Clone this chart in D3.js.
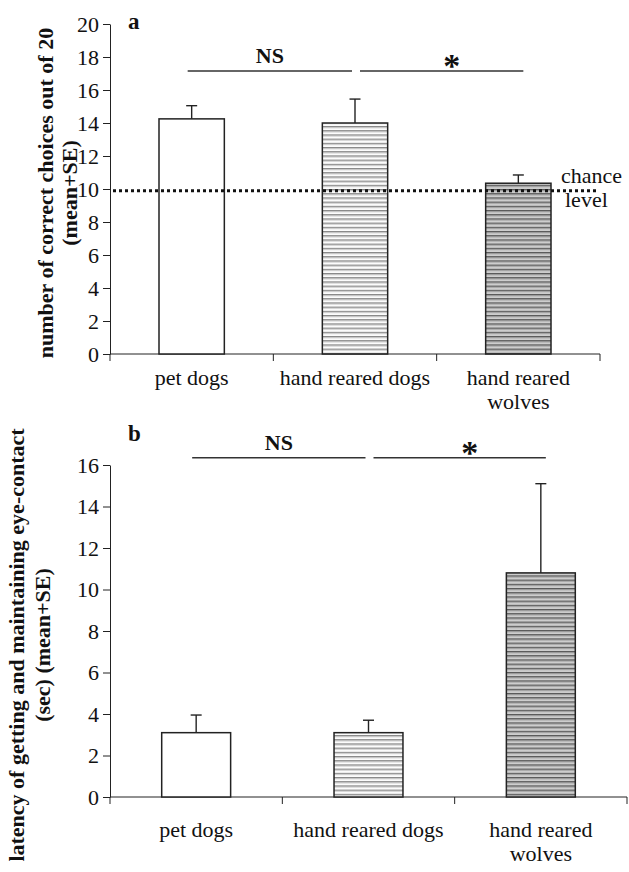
<!DOCTYPE html>
<html>
<head>
<meta charset="utf-8">
<script src="https://cdn.jsdelivr.net/npm/d3@7"></script>
<style>
  body { margin: 0; background: #fff; }
  svg { display: block; }
  svg text { font-family: 'Liberation Serif', 'Times New Roman', serif; fill: #111; }
  .axis path, .axis line { stroke: #222; }
</style>
</head>
<body>
<div id="chart"></div>
<script>
// data
const categories = ['pet dogs', 'hand reared dogs', 'hand reared wolves']
const categoryLines = [['pet dogs'], ['hand reared dogs'], ['hand reared', 'wolves']]
const choiceMean = [14.25, 14.0, 10.35]
const choiceSE = [0.8, 1.45, 0.5]
const chanceLevel = 9.9
const latencyMean = [3.1, 3.1, 10.8]
const latencySE = [0.85, 0.6, 4.3]
const sigLabels = ['NS', '*']

const W = 629
const H = 872
const FONT = "'Liberation Serif', 'Times New Roman', serif"
const svg = d3.select('#chart').append('svg')
  .attr('width', W)
  .attr('height', H)

// stripe fills
const defs = svg.append('defs')
function stripe (id, bg, line, line2) {
  let p = defs.append('pattern')
    .attr('id', id)
    .attr('patternUnits', 'userSpaceOnUse')
    .attr('width', 8)
    .attr('height', 4.2)
  p.append('rect').attr('width', 8).attr('height', 4.2).attr('fill', bg)
  p.append('rect').attr('y', 0).attr('width', 8).attr('height', 1.3).attr('fill', line)
  p.append('rect').attr('y', 1.3).attr('width', 8).attr('height', 0.8).attr('fill', line2)
}
stripe('stripeLight', '#fcfcfc', '#858585', '#c2c2c2')
stripe('stripeDark', '#cdcdcd', '#555', '#999')
const fills = ['#fff', 'url(#stripeLight)', 'url(#stripeDark)']

function drawPanel (o) {
  let g = svg.append('g')
  let x = d3.scaleBand().domain(categories).range([o.x0, o.x1])
  let y = d3.scaleLinear().domain([0, o.yMax]).range([o.yBottom, o.yTop])
  let bw = x.bandwidth() * 0.4

  // y axis
  g.append('g')
    .attr('class', 'axis')
    .attr('transform', `translate(${o.x0},0)`)
    .call(d3.axisLeft(y).tickValues(d3.range(0, o.yMax + 1, 2)).tickSize(7).tickSizeOuter(0).tickPadding(4))
    .call(a => a.selectAll('text')
      .attr('dy', '0.34em')
      .style('font-family', FONT)
      .style('font-size', '22px')
      .style('fill', '#111'))

  // x axis line and ticks at band edges
  g.append('line')
    .attr('x1', o.x0).attr('x2', o.x1)
    .attr('y1', y(0)).attr('y2', y(0))
    .attr('stroke', '#222')
  let edges = categories.map(c => x(c)).concat([o.x1])
  g.selectAll('.xtick').data(edges).enter().append('line')
    .attr('x1', d => d).attr('x2', d => d)
    .attr('y1', y(0)).attr('y2', y(0) + 7)
    .attr('stroke', '#222')

  // category labels
  categoryLines.forEach((lines, i) => {
    let cx = x(categories[i]) + x.bandwidth() / 2
    let t = g.append('text')
      .attr('x', cx)
      .attr('y', y(0) + o.labelDy)
      .attr('text-anchor', 'middle')
      .style('font-size', '22px')
    lines.forEach((l, j) => {
      t.append('tspan')
        .attr('x', cx)
        .attr('dy', j === 0 ? 0 : 24)
        .text(l)
    })
  })

  // error bars
  g.selectAll('.err').data(o.mean).enter().append('g')
    .each(function (d, i) {
      let cx = x(categories[i]) + x.bandwidth() / 2
      let top = y(d + o.se[i])
      d3.select(this).append('line')
        .attr('x1', cx).attr('x2', cx)
        .attr('y1', y(d)).attr('y2', top)
        .attr('stroke', '#222').attr('stroke-width', 1.4)
      d3.select(this).append('line')
        .attr('x1', cx - 5.5).attr('x2', cx + 5.5)
        .attr('y1', top).attr('y2', top)
        .attr('stroke', '#222').attr('stroke-width', 1.4)
    })

  // bars
  g.selectAll('.bar').data(o.mean).enter().append('rect')
    .attr('x', (d, i) => x(categories[i]) + (x.bandwidth() - bw) / 2)
    .attr('width', bw)
    .attr('y', d => y(d))
    .attr('height', d => y(0) - y(d))
    .attr('fill', (d, i) => fills[i])
    .attr('stroke', '#222')
    .attr('stroke-width', 1.5)

  // significance lines
  let centers = categories.map(c => x(c) + x.bandwidth() / 2)
  let sy = y(o.sigLevel)
  sigLabels.forEach((s, i) => {
    let a = centers[i] + (i === 0 ? -4 : 5)
    let b = centers[i + 1] + (i === 0 ? -3 : 5)
    g.append('line')
      .attr('x1', a).attr('x2', b)
      .attr('y1', sy).attr('y2', sy)
      .attr('stroke', '#333').attr('stroke-width', 1.6)
    if (s === '*') {
      g.append('text')
        .attr('x', (a + b) / 2 + 10)
        .attr('y', sy + 6)
        .attr('text-anchor', 'middle')
        .style('font-size', '34px')
        .style('font-weight', 'bold')
        .text(s)
    } else {
      g.append('text')
        .attr('x', (a + b) / 2)
        .attr('y', sy - 8)
        .attr('text-anchor', 'middle')
        .style('font-size', '22px')
        .style('font-weight', 'bold')
        .text(s)
    }
  })

  // panel letter
  g.append('text')
    .attr('x', o.x0 + 18)
    .attr('y', o.letterY)
    .style('font-size', '23px')
    .style('font-weight', 'bold')
    .text(o.letter)

  // y title
  o.title.forEach((t, j) => {
    g.append('text')
      .attr('transform', `translate(${o.titleX[j]},${o.titleY}) rotate(-90)`)
      .attr('text-anchor', 'middle')
      .attr('dy', '0.35em')
      .style('font-size', '22px')
      .style('font-weight', 'bold')
      .text(t)
  })
  return { x, y, g }
}

const pa = drawPanel({
  x0: 110, x1: 600, yTop: 24, yBottom: 354, yMax: 20,
  mean: choiceMean, se: choiceSE, sigLevel: 17.15,
  labelDy: 31, letter: 'a', letterY: 29,
  title: ['number of correct choices out of 20', '(mean+SE)'],
  titleX: [45, 69], titleY: 193
})

// chance level
pa.g.append('line')
  .attr('x1', 113).attr('x2', 598)
  .attr('y1', pa.y(chanceLevel)).attr('y2', pa.y(chanceLevel))
  .attr('stroke', '#111')
  .attr('stroke-width', 3)
  .attr('stroke-dasharray', '3,3')
pa.g.append('text')
  .attr('x', 561).attr('y', pa.y(chanceLevel) - 8)
  .style('font-size', '22px')
  .text('chance')
pa.g.append('text')
  .attr('x', 565).attr('y', pa.y(chanceLevel) + 16)
  .style('font-size', '22px')
  .text('level')

drawPanel({
  x0: 110, x1: 627, yTop: 465, yBottom: 797, yMax: 16,
  mean: latencyMean, se: latencySE, sigLevel: 16.35,
  labelDy: 40, letter: 'b', letterY: 441,
  title: ['latency of getting and maintaining eye-contact', '(sec) (mean+SE)'],
  titleX: [16, 42], titleY: 645
})
</script>
</body>
</html>
